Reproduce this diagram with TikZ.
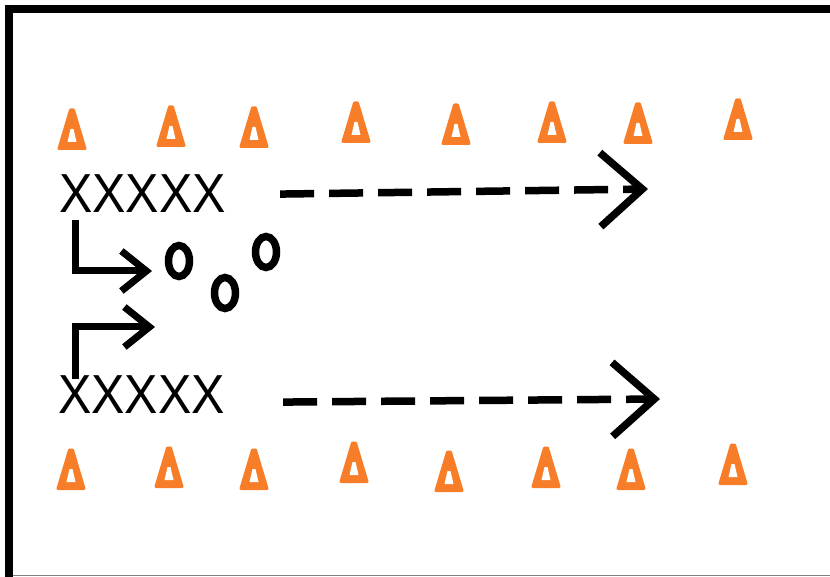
\documentclass[tikz,border=0pt]{standalone}
\usepackage{fontspec}
\setmainfont{Liberation Sans}
\usetikzlibrary{arrows.meta,shapes.geometric}
\definecolor{coneorange}{RGB}{247,125,40}

\begin{document}
\begin{tikzpicture}[x=1pt,y=-1pt,
    player/.style={ellipse,draw,line width=7.5pt,inner sep=0pt,
      minimum width=21pt,minimum height=31pt},
    drill/.style={anchor=base west,inner sep=0pt,
      font=\fontsize{50}{60}\selectfont},
    run/.style={line width=7.5pt,dash pattern=on 34pt off 15pt,
      -{Straight Barb[length=42pt,width=74pt,line width=7.5pt]}},
    cut/.style={line width=7pt,
      -{Straight Barb[length=25pt,width=40pt,line width=7pt]}},
    trafficcone/.pic={
      \fill[coneorange,draw=coneorange,line width=3pt,line join=round]
        (-13,-1.5) -- (13,-1.5) -- (1.5,-40) -- (-1.5,-40) -- cycle;
      \fill[white] (-4.5,-8) -- (4.5,-8) -- (1.5,-21) -- (-1.5,-21) -- cycle;}]

  \useasboundingbox (0,0) rectangle (830,577);

  % field edge
  \draw[line width=8pt] (830,9) -- (8.5,9) -- (8.5,577);
  \draw[gray,line width=1.5pt] (13,575.5) -- (830,575.5);

  % cones, top row
  \pic at (72,150)  {trafficcone};
  \pic at (171,147) {trafficcone};
  \pic at (254,148) {trafficcone};
  \pic at (356,143) {trafficcone};
  \pic at (456,145) {trafficcone};
  \pic at (552,143) {trafficcone};
  \pic at (638,144) {trafficcone};
  \pic at (738,140) {trafficcone};

  % cones, bottom row
  \pic at (71,490)  {trafficcone};
  \pic at (169,488) {trafficcone};
  \pic at (254,490) {trafficcone};
  \pic at (354,483) {trafficcone};
  \pic at (449,492) {trafficcone};
  \pic at (546,488) {trafficcone};
  \pic at (631,490) {trafficcone};
  \pic at (733,485) {trafficcone};

  \node[drill] (row1) at (59,213) {\scalebox{1}[1.1]{XXXXX}};
  \node[drill] (row2) at (58,413) {\scalebox{1}[1.1]{XXXXX}};

  \node[player] (o1) at (179,261) {};
  \node[player] (o2) at (225,293) {};
  \node[player] (o3) at (266,252) {};

  \coordinate (a1) at (152,271);
  \coordinate (a2) at (155,327);
  \coordinate (r1) at (648,189);
  \coordinate (r2) at (660,399);

  \draw[cut] ([xshift=16pt,yshift=-7pt]row1.south west) |- (a1);
  \draw[cut] ([xshift=17pt,yshift=-4pt]row2.north west) |- (a2);

  \draw[run] ([xshift=54pt]row1.east) -- (r1);
  \draw[run] ([xshift=58pt,yshift=-8pt]row2.east) -- (r2);
\end{tikzpicture}
\end{document}
